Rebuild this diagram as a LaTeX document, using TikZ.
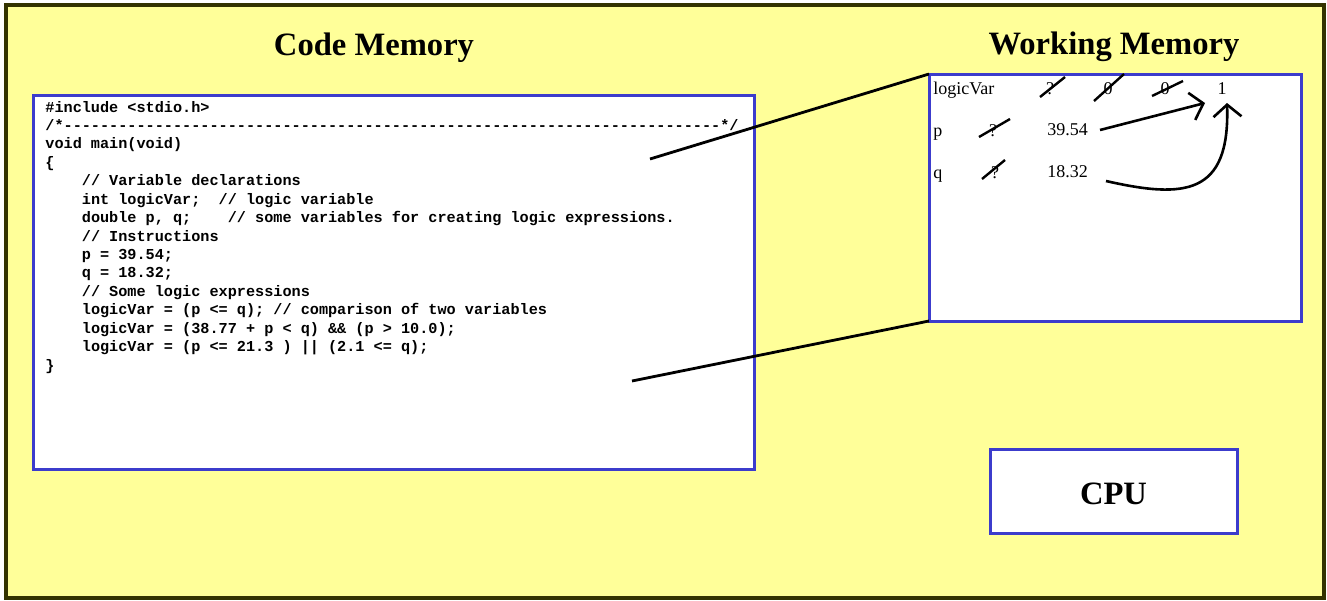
\documentclass[tikz,border=0pt]{standalone}
\usepackage{fontspec}
\setmainfont{Liberation Serif}
\setmonofont{Liberation Mono}
\usetikzlibrary{arrows.meta}
\definecolor{bgyellow}{RGB}{255,255,153}
\definecolor{frameol}{RGB}{51,51,0}
\definecolor{boxblue}{RGB}{60,60,204}
\tikzset{
  membox/.style={draw=boxblue, line width=1.5pt, fill=white, rectangle, inner sep=0pt, outer sep=0pt},
  title/.style={font=\bfseries\fontsize{16.3}{19}\selectfont, anchor=base, inner sep=0pt},
  codeline/.style={font=\ttfamily\bfseries\fontsize{7.6}{9}\selectfont, anchor=base west, inner sep=0pt},
  wmtext/.style={font=\fontsize{9}{11}\selectfont, inner sep=0pt},
  strike/.style={line width=1.2pt, black},
  link/.style={line width=1.4pt, black},
  valarrow/.style={line width=1.3pt, black, -{Straight Barb[length=6pt,width=14pt]}}
}
\begin{document}
\begin{tikzpicture}[x=0.5pt,y=-0.5pt]
\useasboundingbox (0,0) rectangle (1327,600);
\fill[white] (0,0) rectangle (1327,600);
\draw[draw=frameol, fill=bgyellow, line width=1.8pt] (6,5) rectangle (1324,598);

% titles
\node[title] (tcode) at (374,55) {Code Memory};
\node[title] (twm) at (1114,54) {Working Memory};

% code memory box
\node[membox, anchor=north west, minimum width=360.5pt, minimum height=187pt] (code) at (33,95) {};
\node[codeline] (c1) at (45,112) {\#include <stdio.h>};
\node[codeline] (c2) at (45,130.43) {/*------------------------------------------------------------------------*/};
\node[codeline] (c3) at (45,148.86) {void main(void)};
\node[codeline] (c4) at (45,167.29) {\{};
\node[codeline] (c5) at (45,185.72) {~~~~// Variable declarations};
\node[codeline] (c6) at (45,204.15) {~~~~int logicVar;~~// logic variable};
\node[codeline] (c7) at (45,222.58) {~~~~double p, q;~~~~// some variables for creating logic expressions.};
\node[codeline] (c8) at (45,241.01) {~~~~// Instructions};
\node[codeline] (c9) at (45,259.44) {~~~~p = 39.54;};
\node[codeline] (c10) at (45,277.87) {~~~~q = 18.32;};
\node[codeline] (c11) at (45,296.30) {~~~~// Some logic expressions};
\node[codeline] (c12) at (45,314.73) {~~~~logicVar = (p <= q); // comparison of two variables};
\node[codeline] (c13) at (45,333.16) {~~~~logicVar = (38.77 + p < q) \&\& (p > 10.0);};
\node[codeline] (c14) at (45,351.59) {~~~~logicVar = (p <= 21.3 ) || (2.1 <= q);};
\node[codeline] (c15) at (45,370.02) {\}};

% working memory box
\node[membox, anchor=north west, minimum width=186pt, minimum height=123.5pt] (wm) at (929,74) {};
\node[wmtext, anchor=base west] (lv) at (933,94) {logicVar};
\node[wmtext, anchor=base] (lq) at (1050,94) {?};
\node[wmtext, anchor=base] (lz1) at (1108,94) {0};
\node[wmtext, anchor=base] (lz2) at (1165,94) {0};
\node[wmtext, anchor=base] (lone) at (1222,94) {1};
\node[wmtext, anchor=base west] (pn) at (933,136) {p};
\node[wmtext, anchor=base] (pq) at (993,136) {?};
\node[wmtext, anchor=base west] (pv) at (1047,135) {39.54};
\node[wmtext, anchor=base west] (qn) at (933,178) {q};
\node[wmtext, anchor=base] (qq) at (995,178) {?};
\node[wmtext, anchor=base west] (qv) at (1047,177) {18.32};

% strike-outs
\draw[strike] (1040,97) -- (1065,77);
\draw[strike] (1094,101) -- (1124,74);
\draw[strike] (1152,96) -- (1183,81);
\draw[strike] (979,137) -- (1010,119);
\draw[strike] (982,179) -- (1005,160);

% value arrows
\coordinate (pstart) at (1100,130);
\coordinate (qstart) at (1106,181);
\coordinate (tip1) at (1205,103);
\coordinate (tip2) at (1227,103);
\draw[valarrow] (pstart) -- (tip1);
\draw[valarrow] (qstart) .. controls (1185,199) and (1230,195) .. (tip2);

% CPU
\node[membox, anchor=north west, minimum width=123.5pt, minimum height=42pt,
      font=\bfseries\fontsize{16.3}{19}\selectfont, text height=13pt, text depth=0pt] (cpu) at (990,449) {CPU};

% links between code and working memory
\coordinate (l1) at (650,159);
\coordinate (l2) at (632,381);
\draw[link] (l1) -- (wm.north west);
\draw[link] (l2) -- (wm.south west);
\end{tikzpicture}
\end{document}
